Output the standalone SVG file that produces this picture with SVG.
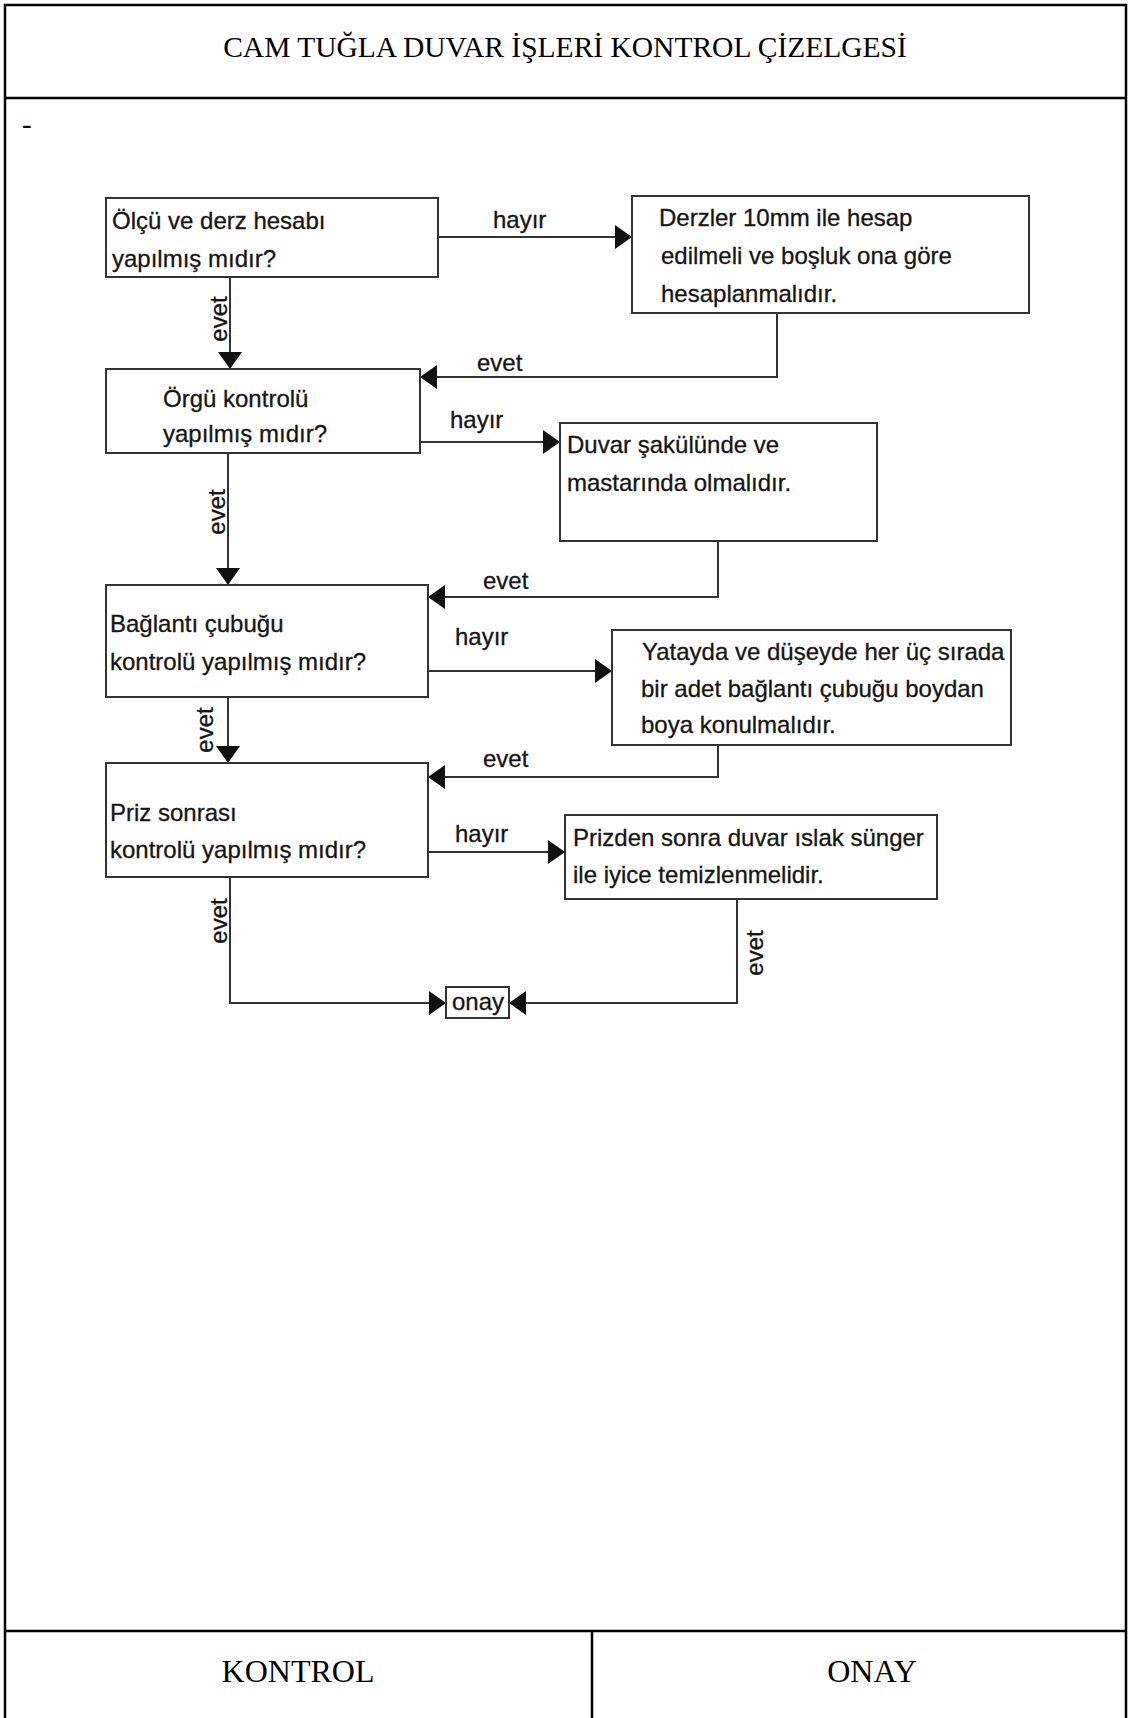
<svg xmlns="http://www.w3.org/2000/svg" width="1131" height="1718" viewBox="0 0 1131 1718">
  <style>
    .frame { stroke: #000; stroke-width: 2.5; fill: none; }
    .box { fill: #fff; stroke: #333; stroke-width: 2; }
    .wire { stroke: #333; stroke-width: 2; fill: none; }
    .t { font-family: "Liberation Sans", Arial, sans-serif; font-size: 24px; fill: #151515; stroke: #151515; stroke-width: 0.3; }
    .lbl { font-family: "Liberation Sans", Arial, sans-serif; font-size: 24px; fill: #151515; stroke: #151515; stroke-width: 0.3; }
    .serif { font-family: "Liberation Serif", "Times New Roman", serif; fill: #000; }
  </style>
  <defs>
    <marker id="arrow" viewBox="0 0 17 24" refX="17" refY="12" markerWidth="17" markerHeight="24" markerUnits="userSpaceOnUse" orient="auto">
      <path d="M0,0 L17,12 L0,24 Z" fill="#111"/>
    </marker>
  </defs>

  <rect width="1131" height="1718" fill="#fff"/>

  <!-- sheet frame -->
  <g id="frame">
    <path class="frame" d="M5,1718 V5 H1126 V1718"/>
    <line class="frame" x1="5" y1="98" x2="1126" y2="98"/>
    <line class="frame" x1="5" y1="1631" x2="1126" y2="1631"/>
    <line class="frame" x1="592" y1="1631" x2="592" y2="1718"/>
    <text class="serif" x="565" y="57" font-size="29.5" text-anchor="middle">CAM TUĞLA DUVAR İŞLERİ KONTROL ÇİZELGESİ</text>
    <text class="serif" x="22" y="134" font-size="29">-</text>
    <text class="serif" x="298" y="1682" font-size="32" text-anchor="middle">KONTROL</text>
    <text class="serif" x="872" y="1682" font-size="32" text-anchor="middle">ONAY</text>
  </g>

  <!-- connectors -->
  <g id="connectors">
    <path class="wire" d="M438,237 H632" marker-end="url(#arrow)"/>
    <path class="wire" d="M230,277 V369" marker-end="url(#arrow)"/>
    <path class="wire" d="M777,313 V377 H420" marker-end="url(#arrow)"/>
    <path class="wire" d="M420,442 H560" marker-end="url(#arrow)"/>
    <path class="wire" d="M228,453 V585" marker-end="url(#arrow)"/>
    <path class="wire" d="M718,541 V597 H428" marker-end="url(#arrow)"/>
    <path class="wire" d="M428,671 H612" marker-end="url(#arrow)"/>
    <path class="wire" d="M228,697 V763" marker-end="url(#arrow)"/>
    <path class="wire" d="M718,745 V777 H428" marker-end="url(#arrow)"/>
    <path class="wire" d="M428,852 H565" marker-end="url(#arrow)"/>
    <path class="wire" d="M230,877 V1003 H446" marker-end="url(#arrow)"/>
    <path class="wire" d="M737,899 V1003 H509" marker-end="url(#arrow)"/>

    <text class="lbl" x="493" y="228">hayır</text>
    <text class="lbl" x="477" y="371">evet</text>
    <text class="lbl" x="450" y="428">hayır</text>
    <text class="lbl" x="483" y="589">evet</text>
    <text class="lbl" x="455" y="645">hayır</text>
    <text class="lbl" x="483" y="767">evet</text>
    <text class="lbl" x="455" y="842">hayır</text>

    <text class="lbl" text-anchor="middle" transform="translate(227,319) rotate(-90)">evet</text>
    <text class="lbl" text-anchor="middle" transform="translate(225,512) rotate(-90)">evet</text>
    <text class="lbl" text-anchor="middle" transform="translate(213,730) rotate(-90)">evet</text>
    <text class="lbl" text-anchor="middle" transform="translate(227,921) rotate(-90)">evet</text>
    <text class="lbl" text-anchor="middle" transform="translate(763,953) rotate(-90)">evet</text>
  </g>

  <!-- questions -->
  <g id="q-olcu">
    <rect class="box" x="106" y="198" width="332" height="79"/>
    <text class="t" x="112" y="229">Ölçü ve derz hesabı</text>
    <text class="t" x="112" y="267">yapılmış mıdır?</text>
  </g>
  <g id="q-orgu">
    <rect class="box" x="106" y="369" width="314" height="84"/>
    <text class="t" x="163" y="407">Örgü kontrolü</text>
    <text class="t" x="163" y="442">yapılmış mıdır?</text>
  </g>
  <g id="q-baglanti">
    <rect class="box" x="106" y="585" width="322" height="112"/>
    <text class="t" x="110" y="632">Bağlantı çubuğu</text>
    <text class="t" x="110" y="670">kontrolü yapılmış mıdır?</text>
  </g>
  <g id="q-priz">
    <rect class="box" x="106" y="763" width="322" height="114"/>
    <text class="t" x="110" y="821">Priz sonrası</text>
    <text class="t" x="110" y="858">kontrolü yapılmış mıdır?</text>
  </g>

  <!-- corrective actions -->
  <g id="a-derz">
    <rect class="box" x="632" y="196" width="397" height="117"/>
    <text class="t" x="659" y="226">Derzler 10mm ile hesap</text>
    <text class="t" x="661" y="264">edilmeli ve boşluk ona göre</text>
    <text class="t" x="661" y="302">hesaplanmalıdır.</text>
  </g>
  <g id="a-sakul">
    <rect class="box" x="560" y="423" width="317" height="118"/>
    <text class="t" x="567" y="453">Duvar şakülünde ve</text>
    <text class="t" x="567" y="491">mastarında olmalıdır.</text>
  </g>
  <g id="a-cubuk">
    <rect class="box" x="612" y="630" width="399" height="115"/>
    <text class="t" x="642" y="660">Yatayda ve düşeyde her üç sırada</text>
    <text class="t" x="641" y="697">bir adet bağlantı çubuğu boydan</text>
    <text class="t" x="641" y="733">boya konulmalıdır.</text>
  </g>
  <g id="a-temizlik">
    <rect class="box" x="565" y="815" width="372" height="84"/>
    <text class="t" x="573" y="846">Prizden sonra duvar ıslak sünger</text>
    <text class="t" x="573" y="883">ile iyice temizlenmelidir.</text>
  </g>

  <!-- approval -->
  <g id="onay">
    <rect class="box" x="446" y="987" width="63" height="31"/>
    <text class="t" x="452" y="1010">onay</text>
  </g>
</svg>
